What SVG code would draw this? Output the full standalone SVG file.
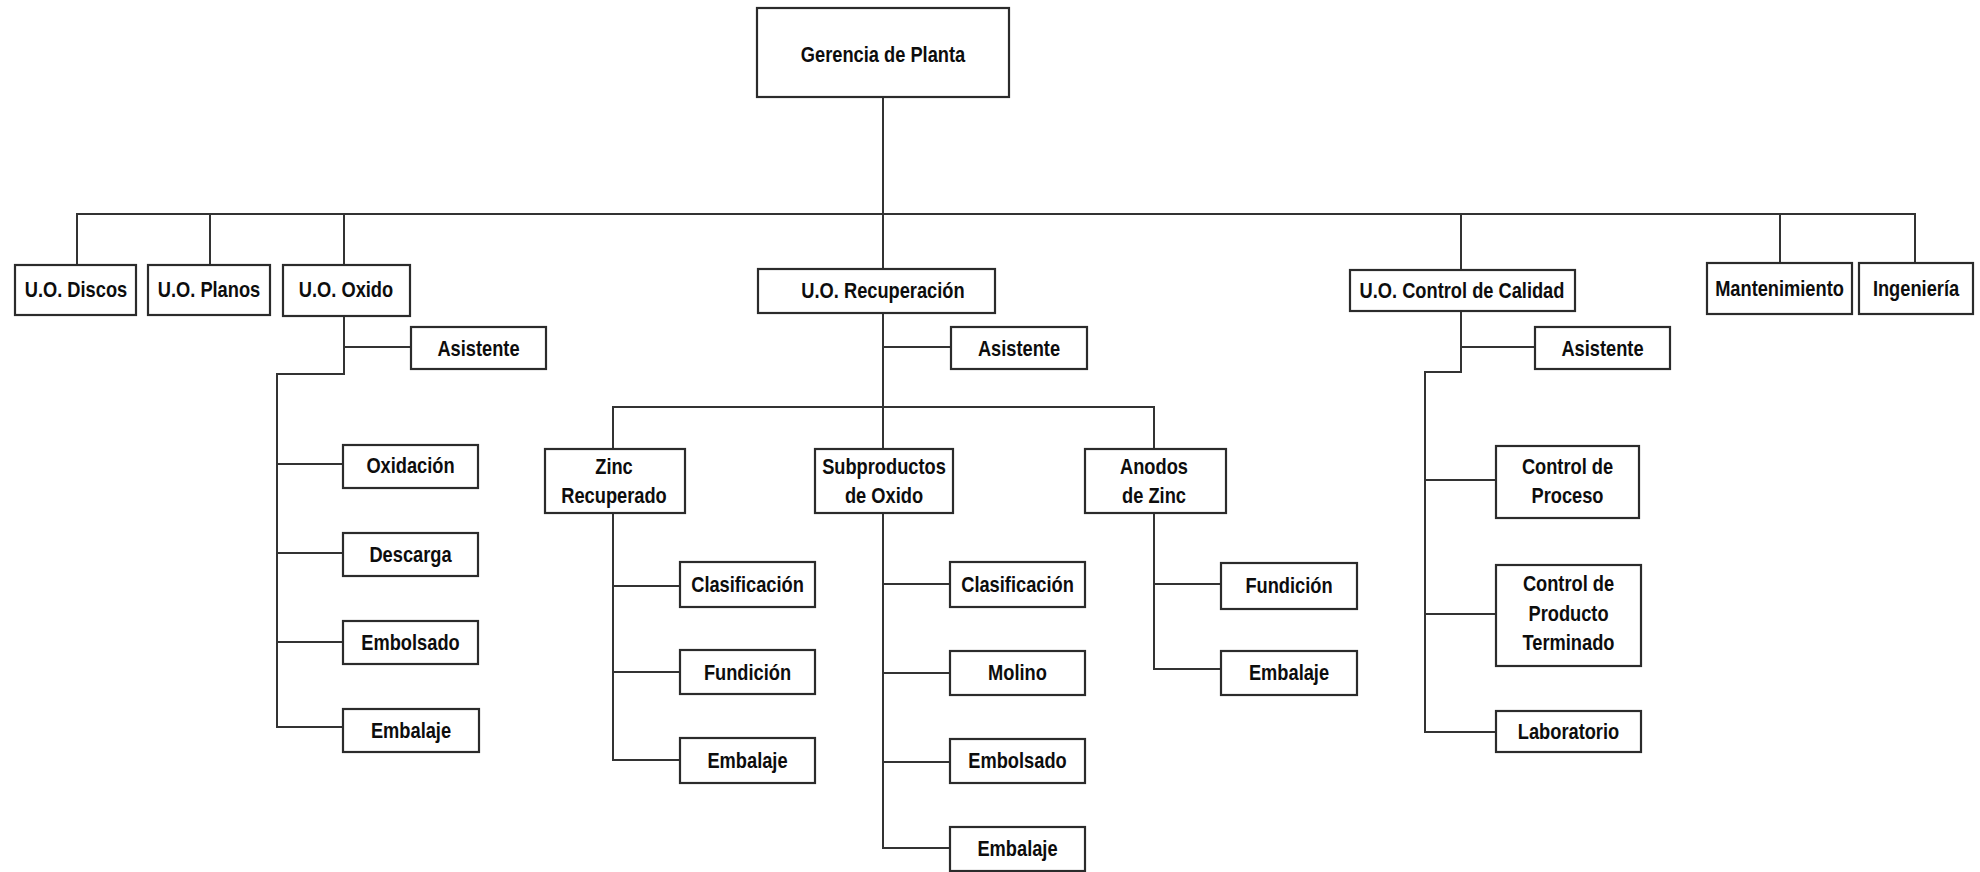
<svg xmlns="http://www.w3.org/2000/svg" width="1980" height="872" viewBox="0 0 1980 872">
  <style>
    .box { fill: #ffffff; stroke: #2b2b2b; stroke-width: 2.2; }
    .wire { fill: none; stroke: #333333; stroke-width: 2; stroke-linecap: square; }
    .lbl { font-family: "Liberation Sans", Arial, sans-serif; font-weight: bold; font-size: 22px; fill: #0d0d0d; text-anchor: middle; }
  </style>
  <rect width="1980" height="872" fill="#ffffff"/>

  <!-- connectors -->
  <g id="connectors" class="wire">
    <!-- top level -->
    <path d="M883 97 V269"/>
    <path d="M77 214 H1915"/>
    <path d="M77 214 V265 M210 214 V265 M344 214 V265 M1461 214 V270 M1780 214 V263 M1915 214 V263"/>
    <!-- U.O. Oxido -->
    <path d="M344 316 V374 H277 V727"/>
    <path d="M344 347 H411"/>
    <path d="M277 464 H343 M277 553 H343 M277 642 H343 M277 727 H343"/>
    <!-- U.O. Recuperacion -->
    <path d="M883 313 V449"/>
    <path d="M883 347 H951"/>
    <path d="M613 449 V407 H1154 V449"/>
    <path d="M613 513 V760 M613 586 H680 M613 672 H680 M613 760 H680"/>
    <path d="M883 513 V848 M883 584 H950 M883 673 H950 M883 762 H950 M883 848 H950"/>
    <path d="M1154 513 V669 M1154 584 H1221 M1154 669 H1221"/>
    <!-- U.O. Control de Calidad -->
    <path d="M1461 311 V372 H1425 V732"/>
    <path d="M1461 347 H1535"/>
    <path d="M1425 480 H1496 M1425 614 H1496 M1425 732 H1496"/>
  </g>

  <!-- nodes (labels use a narrowed bold face: scale(0.83 1) about the label centre) -->
  <g id="gerencia"><rect class="box" x="757" y="8" width="252" height="89"/><text class="lbl" transform="translate(883 0) scale(0.83 1)" x="0" y="62">Gerencia de Planta</text></g>

  <g id="uo-discos"><rect class="box" x="15" y="265" width="121" height="50"/><text class="lbl" transform="translate(76 0) scale(0.83 1)" x="0" y="297">U.O. Discos</text></g>
  <g id="uo-planos"><rect class="box" x="148" y="265" width="122" height="50"/><text class="lbl" transform="translate(209 0) scale(0.83 1)" x="0" y="297">U.O. Planos</text></g>
  <g id="uo-oxido"><rect class="box" x="283" y="265" width="127" height="51"/><text class="lbl" transform="translate(346 0) scale(0.83 1)" x="0" y="297">U.O. Oxido</text></g>
  <g id="uo-recuperacion"><rect class="box" x="758" y="269" width="237" height="44"/><text class="lbl" transform="translate(883 0) scale(0.83 1)" x="0" y="298">U.O. Recuperación</text></g>
  <g id="uo-calidad"><rect class="box" x="1350" y="270" width="225" height="41"/><text class="lbl" transform="translate(1462 0) scale(0.83 1)" x="0" y="298">U.O. Control de Calidad</text></g>
  <g id="mantenimiento"><rect class="box" x="1707" y="263" width="145" height="51"/><text class="lbl" transform="translate(1779.5 0) scale(0.83 1)" x="0" y="296">Mantenimiento</text></g>
  <g id="ingenieria"><rect class="box" x="1859" y="263" width="114" height="51"/><text class="lbl" transform="translate(1916 0) scale(0.83 1)" x="0" y="296">Ingeniería</text></g>

  <g id="oxido-asistente"><rect class="box" x="411" y="327" width="135" height="42"/><text class="lbl" transform="translate(478.5 0) scale(0.83 1)" x="0" y="356">Asistente</text></g>
  <g id="recuperacion-asistente"><rect class="box" x="951" y="327" width="136" height="42"/><text class="lbl" transform="translate(1019 0) scale(0.83 1)" x="0" y="356">Asistente</text></g>
  <g id="calidad-asistente"><rect class="box" x="1535" y="327" width="135" height="42"/><text class="lbl" transform="translate(1602.5 0) scale(0.83 1)" x="0" y="356">Asistente</text></g>

  <!-- U.O. Oxido areas -->
  <g id="oxido-oxidacion"><rect class="box" x="343" y="445" width="135" height="43"/><text class="lbl" transform="translate(410.5 0) scale(0.83 1)" x="0" y="473">Oxidación</text></g>
  <g id="oxido-descarga"><rect class="box" x="343" y="533" width="135" height="43"/><text class="lbl" transform="translate(410.5 0) scale(0.83 1)" x="0" y="562">Descarga</text></g>
  <g id="oxido-embolsado"><rect class="box" x="343" y="621" width="135" height="43"/><text class="lbl" transform="translate(410.5 0) scale(0.83 1)" x="0" y="650">Embolsado</text></g>
  <g id="oxido-embalaje"><rect class="box" x="343" y="709" width="136" height="43"/><text class="lbl" transform="translate(411 0) scale(0.83 1)" x="0" y="738">Embalaje</text></g>

  <!-- U.O. Recuperacion areas -->
  <g id="zinc-recuperado"><rect class="box" x="545" y="449" width="140" height="64"/><text class="lbl" transform="translate(614 0) scale(0.83 1)"><tspan x="0" y="474">Zinc</tspan><tspan x="0" y="503">Recuperado</tspan></text></g>
  <g id="subproductos-oxido"><rect class="box" x="815" y="449" width="138" height="64"/><text class="lbl" transform="translate(884 0) scale(0.83 1)"><tspan x="0" y="474">Subproductos</tspan><tspan x="0" y="503">de Oxido</tspan></text></g>
  <g id="anodos-zinc"><rect class="box" x="1085" y="449" width="141" height="64"/><text class="lbl" transform="translate(1154 0) scale(0.83 1)"><tspan x="0" y="474">Anodos</tspan><tspan x="0" y="503">de Zinc</tspan></text></g>

  <g id="zinc-clasificacion"><rect class="box" x="680" y="562" width="135" height="45"/><text class="lbl" transform="translate(747.5 0) scale(0.83 1)" x="0" y="592">Clasificación</text></g>
  <g id="zinc-fundicion"><rect class="box" x="680" y="650" width="135" height="44"/><text class="lbl" transform="translate(747.5 0) scale(0.83 1)" x="0" y="680">Fundición</text></g>
  <g id="zinc-embalaje"><rect class="box" x="680" y="738" width="135" height="45"/><text class="lbl" transform="translate(747.5 0) scale(0.83 1)" x="0" y="768">Embalaje</text></g>

  <g id="sub-clasificacion"><rect class="box" x="950" y="562" width="135" height="45"/><text class="lbl" transform="translate(1017.5 0) scale(0.83 1)" x="0" y="592">Clasificación</text></g>
  <g id="sub-molino"><rect class="box" x="950" y="651" width="135" height="44"/><text class="lbl" transform="translate(1017.5 0) scale(0.83 1)" x="0" y="680">Molino</text></g>
  <g id="sub-embolsado"><rect class="box" x="950" y="739" width="135" height="44"/><text class="lbl" transform="translate(1017.5 0) scale(0.83 1)" x="0" y="768">Embolsado</text></g>
  <g id="sub-embalaje"><rect class="box" x="950" y="827" width="135" height="44"/><text class="lbl" transform="translate(1017.5 0) scale(0.83 1)" x="0" y="856">Embalaje</text></g>

  <g id="anodos-fundicion"><rect class="box" x="1221" y="563" width="136" height="46"/><text class="lbl" transform="translate(1289 0) scale(0.83 1)" x="0" y="593">Fundición</text></g>
  <g id="anodos-embalaje"><rect class="box" x="1221" y="651" width="136" height="44"/><text class="lbl" transform="translate(1289 0) scale(0.83 1)" x="0" y="680">Embalaje</text></g>

  <!-- U.O. Control de Calidad areas -->
  <g id="control-proceso"><rect class="box" x="1496" y="446" width="143" height="72"/><text class="lbl" transform="translate(1567.5 0) scale(0.83 1)"><tspan x="0" y="474">Control de</tspan><tspan x="0" y="503">Proceso</tspan></text></g>
  <g id="control-producto"><rect class="box" x="1496" y="565" width="145" height="101"/><text class="lbl" transform="translate(1568.5 0) scale(0.83 1)"><tspan x="0" y="591">Control de</tspan><tspan x="0" y="621">Producto</tspan><tspan x="0" y="650">Terminado</tspan></text></g>
  <g id="laboratorio"><rect class="box" x="1496" y="711" width="145" height="41"/><text class="lbl" transform="translate(1568.5 0) scale(0.83 1)" x="0" y="739">Laboratorio</text></g>
</svg>
